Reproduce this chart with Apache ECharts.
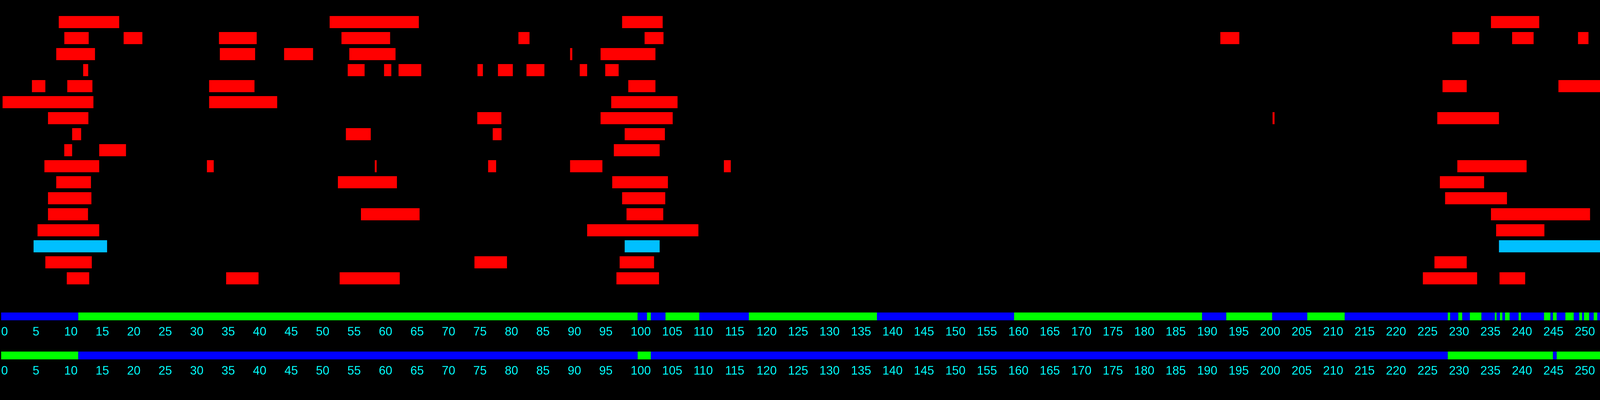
<!DOCTYPE html>
<html>
<head>
<meta charset="utf-8">
<script src="https://cdn.jsdelivr.net/npm/echarts@6/dist/echarts.min.js"></script>
<style>
html,body{margin:0;padding:0;background:#000;width:100%;height:100%;overflow:hidden;}
#chart{width:100vw;height:100vh;}
</style>
</head>
<body>
<div id="chart"></div>
<script>
// Row intervals (start, end) in axis units, top row first
var rowIntervals = [
  [[9.33,18.92],[52.33,66.49],[98.76,105.2],[236.69,244.35]],
  [[10.21,14.08],[19.63,22.6],[34.76,40.75],[54.21,61.93],[82.3,84.06],[102.33,105.33],[193.73,196.74],[230.55,234.84],[240.05,243.46],[250.51,252.17]],
  [[8.93,15.08],[34.9,40.5],[45.1,49.7],[55.45,62.79],[90.5,90.85],[95.34,104.05]],
  [[13.2,14.0],[55.2,57.88],[60.97,62.12],[63.27,66.87],[75.8,76.66],[79.05,81.41],[83.58,86.42],[92.03,93.21],[96.08,98.21]],
  [[5.07,7.2],[10.68,14.67],[33.2,40.4],[99.74,104.05],[229.0,232.84],[247.4,254]],
  [[0.41,14.83],[33.2,44.0],[97.03,107.56]],
  [[7.62,14.03],[75.77,79.59],[95.34,106.79],[202.02,202.33],[228.17,237.96]],
  [[11.45,12.88],[54.91,58.86],[78.22,79.62],[99.17,105.55]],
  [[10.2,11.45],[15.75,20.0],[97.45,104.72]],
  [[7.05,15.75],[32.85,33.93],[59.5,59.79],[77.49,78.76],[90.5,95.63],[114.92,116.01],[231.35,242.35]],
  [[8.93,14.44],[53.64,63.01],[97.19,106.03],[228.58,235.6]],
  [[7.62,14.51],[98.76,105.61],[229.41,239.23]],
  [[7.62,13.97],[57.3,66.61],[99.46,105.29],[236.69,252.42]],
  [[5.96,15.75],[93.21,110.87],[237.51,245.17]],
  [[5.33,17.0],[99.17,104.72],[237.96,254]],
  [[7.2,14.57],[75.32,80.48],[98.37,103.83],[227.72,232.84]],
  [[10.6,14.16],[35.9,41.04],[53.92,63.46],[97.86,104.62],[225.88,234.49],[238.05,242.12]]
];
var highlightRow = 14;

// Strip segments: [start, end, state] state 0 = blue, 1 = green
var strip1 = [
  [0,12.25,0],[12.25,101.12,1],[101.12,102.6,0],[102.6,103.21,1],[103.21,105.54,0],
  [105.54,110.92,1],[110.92,118.78,0],[118.78,139.13,1],[139.13,160.92,0],[160.92,190.79,1],
  [190.79,194.63,0],[194.63,201.92,1],[201.92,207.5,0],[207.5,213.45,1],[213.45,229.82,0],
  [229.82,230.2,1],[230.2,231.49,0],[231.49,232.12,1],[232.12,233.33,0],[233.33,235.17,1],
  [235.17,237.29,0],[237.29,237.58,1],[237.58,238.11,0],[238.11,238.49,1],[238.49,238.91,0],
  [238.91,239.65,1],[239.65,241.07,0],[241.07,241.45,1],[241.45,245.11,0],[245.11,246.13,1],
  [246.13,246.53,0],[246.53,247.12,1],[247.12,248.5,0],[248.5,249.83,1],[249.83,250.7,0],
  [250.7,251.16,1],[251.16,251.46,0],[251.46,252.28,1],[252.28,253.0,0],[253.0,253.57,1],
  [253.57,254,0]
];
var strip2 = [
  [0,12.25,1],[12.25,101.12,0],[101.12,103.21,1],[103.21,229.82,0],
  [229.82,246.53,1],[246.53,247.12,0],[247.12,254,1]
];
var axisMin = 0, axisMax = 254, tickStep = 5;

var rowCategories = rowIntervals.map(function(_, i){ return 'R' + (i + 1); });
var rowData = [];
rowIntervals.forEach(function(list, r){
  list.forEach(function(iv){ rowData.push([r, iv[0], iv[1]]); });
});

var RED = '#ff0000', CYAN = '#00bfff', BLUE = '#0000ff', GREEN = '#00ff00';

function renderRow(params, api){
  var r = api.value(0);
  var p0 = api.coord([api.value(1), r]);
  var p1 = api.coord([api.value(2), r]);
  var h = api.size([0, 1])[1] * 0.756;
  return {
    type: 'rect',
    shape: {x: p0[0], y: p0[1] - h / 2, width: p1[0] - p0[0], height: h},
    style: {fill: r === highlightRow ? CYAN : RED}
  };
}
function renderStrip(params, api){
  var p0 = api.coord([api.value(0), 1]);
  var p1 = api.coord([api.value(1), 0]);
  return {
    type: 'rect',
    shape: {x: p0[0], y: p0[1], width: p1[0] - p0[0], height: p1[1] - p0[1]},
    style: {fill: api.value(2) === 1 ? GREEN : BLUE}
  };
}

function stripAxis(idx){
  return {
    type: 'value', gridIndex: idx, min: axisMin, max: axisMax, interval: tickStep,
    axisLine: {show: false}, axisTick: {show: false}, splitLine: {show: false},
    axisLabel: {
      show: true, color: '#00ffff', fontSize: 31, fontFamily: 'Liberation Sans',
      align: 'left', margin: 15, showMaxLabel: false,
      formatter: function(v){ return (v % tickStep === 0) ? String(v) : ''; }
    }
  };
}

var chart = echarts.init(document.getElementById('chart'));
chart.setOption({
  backgroundColor: '#000',
  animation: false,
  grid: [
    {left: 0, right: 0, top: 36, height: 697},
    {left: 0, right: 0, top: 800, height: 20},
    {left: 0, right: 0, top: 900, height: 20}
  ],
  xAxis: [
    {type: 'value', gridIndex: 0, min: axisMin, max: axisMax, show: false},
    stripAxis(1),
    stripAxis(2)
  ],
  yAxis: [
    {type: 'category', gridIndex: 0, data: rowCategories, inverse: true, show: false},
    {type: 'value', gridIndex: 1, min: 0, max: 1, show: false},
    {type: 'value', gridIndex: 2, min: 0, max: 1, show: false}
  ],
  series: [
    {type: 'custom', xAxisIndex: 0, yAxisIndex: 0, renderItem: renderRow,
     encode: {x: [1, 2], y: 0}, data: rowData},
    {type: 'custom', xAxisIndex: 1, yAxisIndex: 1, renderItem: renderStrip,
     encode: {x: [0, 1]}, data: strip1},
    {type: 'custom', xAxisIndex: 2, yAxisIndex: 2, renderItem: renderStrip,
     encode: {x: [0, 1]}, data: strip2}
  ]
});
window.addEventListener('resize', function(){ chart.resize(); });
</script>
</body>
</html>
